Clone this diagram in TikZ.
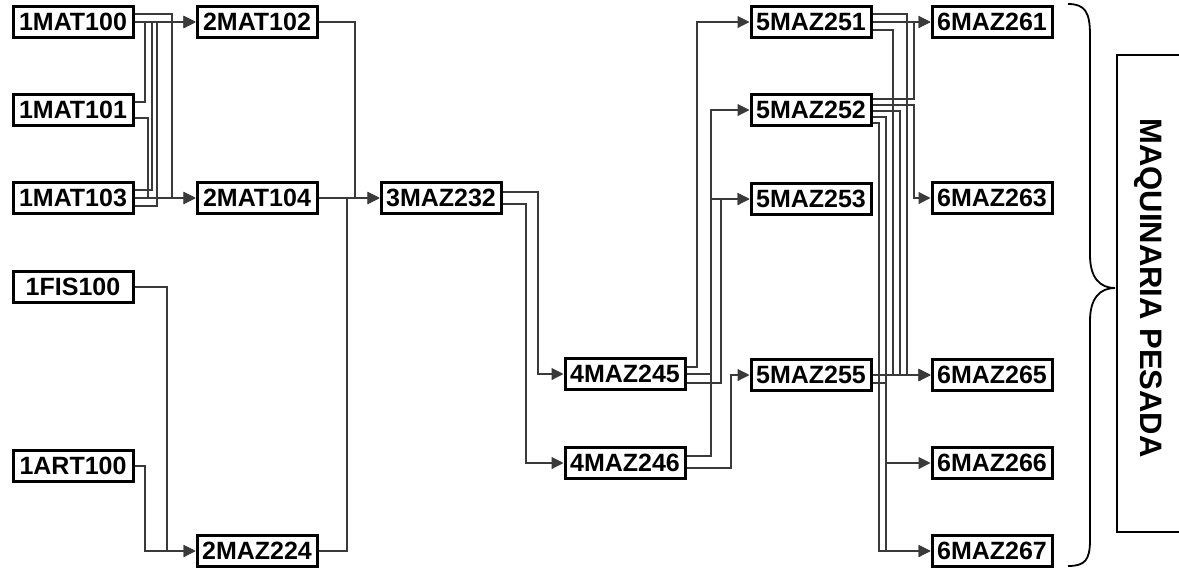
\documentclass[tikz,border=0pt]{standalone}
\usepackage{fontspec}
\setmainfont{Liberation Sans}
\usetikzlibrary{arrows.meta, calc}
\definecolor{mLine}{HTML}{3A3A3A}
\tikzset{
  course/.style={draw, line width=1.5pt, fill=white, minimum width=60pt, minimum height=15.5pt, inner sep=0pt, font=\fontsize{12.5}{14}\selectfont\bfseries},
  link/.style={mLine, line width=0.55pt, -{Triangle[length=6pt, width=6pt]}},
  elbow/.style={to path={-| ($(\tikztotarget)+(-#1,0)$) -- (\tikztotarget)}}
}

\begin{document}
\begin{tikzpicture}[x=0.5pt, y=-0.5pt]
    \useasboundingbox (0,0) rectangle (1179,569);
    \node[course] (m100) at (73,22) {1MAT100};
    \node[course] (m101) at (73,110) {1MAT101};
    \node[course] (m103) at (73,198) {1MAT103};
    \node[course] (f100) at (73,287) {1FIS100};
    \node[course] (a100) at (73,466) {1ART100};
    \node[course] (t102) at (257,22) {2MAT102};
    \node[course] (t104) at (257,198) {2MAT104};
    \node[course] (z224) at (257,551) {2MAZ224};
    \node[course] (z232) at (441,198) {3MAZ232};
    \node[course] (z245) at (625,374) {4MAZ245};
    \node[course] (z246) at (625,463) {4MAZ246};
    \node[course] (z251) at (811,22) {5MAZ251};
    \node[course] (z252) at (811,110) {5MAZ252};
    \node[course] (z253) at (811,199) {5MAZ253};
    \node[course] (z255) at (811,375) {5MAZ255};
    \node[course] (z261) at (992,22) {6MAZ261};
    \node[course] (z263) at (992,198) {6MAZ263};
    \node[course] (z265) at (992,375) {6MAZ265};
    \node[course] (z266) at (992,463) {6MAZ266};
    \node[course] (z267) at (992,551) {6MAZ267};

    \draw[link] (m100) -- (t102);
    \draw[link] ([yshift=4pt]m100.east) to[elbow=23.5] (t104.west);
    \draw[link] ([yshift=4pt]m101.east) to[elbow=50.5] (t102.west);
    \draw[link] ([yshift=-4pt]m101.east) to[elbow=47.5] (t104.west);
    \draw[link] ([yshift=4pt]m103.east) to[elbow=43.5] (t102.west);
    \draw[link] (m103) -- (t104);
    \draw[link] ([yshift=-4pt]m103.east) to[elbow=38.5] (t102.west);
    \draw[link] (f100.east) to[elbow=28.5] (z224.west);
    \draw[link] (a100.east) to[elbow=50.5] (z224.west);

    \draw[link] (t102.east) to[elbow=24.5] (z232.west);
    \draw[link] (t104) -- (z232);
    \draw[link] (z224.east) to[elbow=32.5] (z232.west);

    \draw[link] ([yshift=3pt]z232.east) to[elbow=25.5] (z245.west);
    \draw[link] ([yshift=-3pt]z232.east) to[elbow=37.5] (z246.west);

    \draw[link] ([yshift=3.5pt]z245.east) to[elbow=52.5] (z251.west);
    \draw[link] (z245.east) to[elbow=38.5] (z252.west);
    \draw[link] ([yshift=-4.5pt]z245.east) to[elbow=28.5] (z253.west);
    \draw[link] ([yshift=3.5pt]z246.east) to[elbow=38.5] (z253.west);
    \draw[link] ([yshift=-2.5pt]z246.east) to[elbow=18.5] (z255.west);

    \draw[link] (z251) -- (z261);
    \draw[link] ([yshift=4pt]z251.east) to[elbow=23.5] (z265.west);
    \draw[link] ([yshift=-4pt]z251.east) to[elbow=37.5] (z265.west);
    \draw[link] ([yshift=5.5pt]z252.east) to[elbow=16.5] (z261.west);
    \draw[link] ([yshift=2.5pt]z252.east) to[elbow=16.5] (z263.west);
    \draw[link] ([yshift=-0.5pt]z252.east) to[elbow=30.5] (z265.west);
    \draw[link] ([yshift=-3.5pt]z252.east) to[elbow=44.5] (z266.west);
    \draw[link] ([yshift=-6.5pt]z252.east) to[elbow=51.5] (z267.west);
    \draw[link] (z255) -- (z265);
    \draw[link] ([yshift=-4pt]z255.east) to[elbow=44.5] (z267.west);

    \draw[line width=0.9pt] (1068,4) .. controls (1085,4) and (1090,12) .. (1090,35) -- (1090,255)
      .. controls (1090,278) and (1100,288) .. (1115,288)
      .. controls (1100,288) and (1090,298) .. (1090,321) -- (1090,540)
      .. controls (1090,560) and (1085,566) .. (1068,566);
    \draw[line width=0.9pt] (1185,55) -| (1117,532) -- (1185,532);
    \node[rotate=-90, font=\fontsize{15.5}{18}\selectfont\bfseries] (area) at (1148,288) {MAQUINARIA PESADA};
\end{tikzpicture}
\end{document}
